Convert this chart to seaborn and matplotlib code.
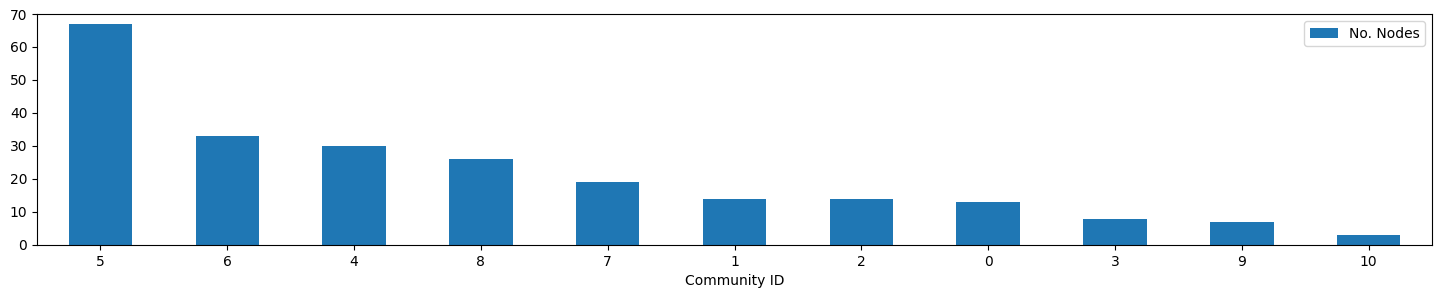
import seaborn as sns
import matplotlib.pyplot as plt
import pandas as pd

community_ids = ['5', '6', '4', '8', '7', '1', '2', '0', '3', '9', '10']
num_nodes = [67, 33, 30, 26, 19, 14, 14, 13, 8, 7, 3]

df = pd.DataFrame({'Community ID': community_ids, 'No. Nodes': num_nodes})

fig, ax = plt.subplots(figsize=(14.42, 2.98), dpi=100)
fig.subplots_adjust(left=0.0257, right=0.9931, top=0.953, bottom=0.178)

sns.barplot(data=df, x='Community ID', y='No. Nodes', color='#1f77b4',
            saturation=1, width=0.5, label='No. Nodes', ax=ax)

ax.set_xlim(-0.5, len(community_ids) - 0.5)
ax.set_ylim(0, 70)
ax.set_ylabel('')
ax.set_xlabel('Community ID')
ax.legend(loc='upper right')

fig.savefig('out.png', dpi=100)
